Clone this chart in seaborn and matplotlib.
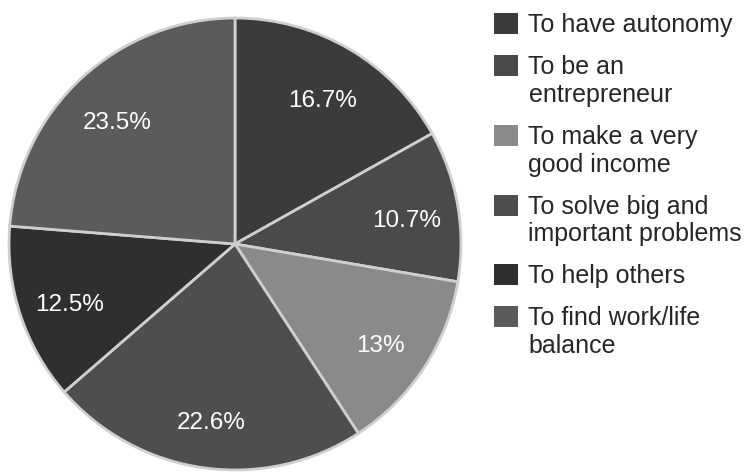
import matplotlib
matplotlib.use("Agg")
import matplotlib.pyplot as plt
import seaborn as sns

categories = [
    "To have autonomy",
    "To be an\nentrepreneur",
    "To make a very\ngood income",
    "To solve big and\nimportant problems",
    "To help others",
    "To find work/life\nbalance",
]
values = [16.7, 10.7, 13, 22.6, 12.5, 23.5]
value_labels = ["16.7%", "10.7%", "13%", "22.6%", "12.5%", "23.5%"]
colors = ["#3b3b3b", "#4a4a4a", "#8a8a8a", "#4e4e4e", "#2f2f2f", "#5b5b5b"]

sns.set_theme(style="white")
plt.rcParams["font.family"] = ["Liberation Sans", "DejaVu Sans"]

fig = plt.figure(figsize=(7.44, 4.74), dpi=100)
W, H = 744, 474
cx, cy, r = 235, 244, 226
ax = fig.add_axes([(cx - r) / W, (H - cy - r) / H, 2 * r / W, 2 * r / H])

label_iter = iter(value_labels)
wedges, texts, autotexts = ax.pie(
    values,
    startangle=90,
    counterclock=False,
    colors=colors,
    autopct=lambda p: next(label_iter),
    pctdistance=0.77,
    wedgeprops=dict(edgecolor="#cfcfcf", linewidth=2),
    textprops=dict(color="white", fontsize=17.5),
)
for t in autotexts:
    x, y = t.get_position()
    t.set_position((x, y - 0.03))
ax.set_xlim(-1.0, 1.0)
ax.set_ylim(-1.0, 1.0)
ax.set_aspect("equal")
ax.axis("off")

leg = fig.legend(
    wedges,
    categories,
    loc="upper left",
    bbox_to_anchor=(494 / W, 1 - 13 / H),
    frameon=False,
    fontsize=18,
    handlelength=0.96,
    handleheight=0.92,
    handletextpad=0.42,
    labelspacing=0.72,
    borderpad=0,
    borderaxespad=0,
)
for h, c in zip(leg.legend_handles, colors):
    h.set_edgecolor(c)
    h.set_linewidth(0)
for col in leg._legend_handle_box.get_children():
    for item in col.get_children():
        item.align = "top"

fig.savefig("out.png", dpi=100, facecolor="white")
